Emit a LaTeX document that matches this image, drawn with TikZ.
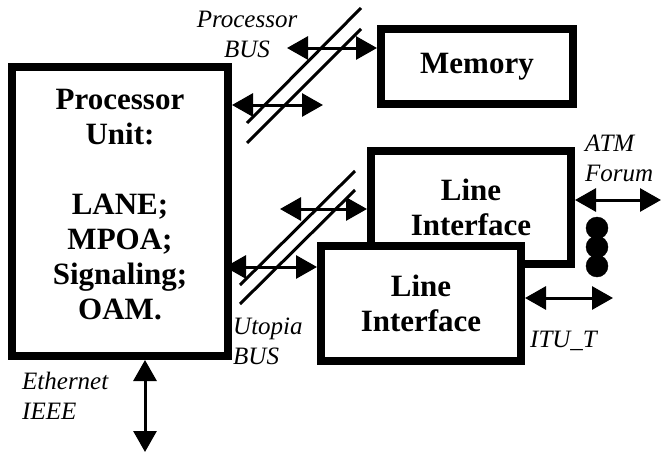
\documentclass[tikz,border=0pt]{standalone}
\usepackage{fontspec}
\setmainfont{Liberation Serif}
\usetikzlibrary{arrows.meta}

\tikzset{
  unitbox/.style={draw, line width=8pt, fill=white, inner sep=0pt, align=center,
    font=\fontsize{31}{35}\selectfont\bfseries},
  buslabel/.style={inner sep=0pt, font=\fontsize{25}{30}\selectfont\itshape},
  busline/.style={line width=3pt},
  link/.style={line width=3pt, {Triangle[length=21pt,width=23pt]}-{Triangle[length=21pt,width=23pt]}}
}

\begin{document}
\begin{tikzpicture}[x=1pt, y=-1pt]
  \useasboundingbox (0,0) rectangle (662,455);

  % draws the units
  \node[unitbox, minimum width=216pt, minimum height=289pt, text depth=15pt] (proc) at (120,211.5)
    {Processor\\Unit:\\[35pt]LANE;\\MPOA;\\Signaling;\\OAM.};
  \node[unitbox, minimum width=192pt, minimum height=75pt] (mem) at (477,66.5) {Memory};
  \node[unitbox, minimum width=200pt, minimum height=113pt] (lineB) at (471,207.5) {Line\\Interface};
  \node[unitbox, minimum width=200pt, minimum height=115pt] (lineF) at (421,303.5) {Line\\Interface};

  % draws the buses
  \draw[busline] (247,123) -- (361,8);
  \draw[busline] (247,143) -- (361,29);
  \draw[busline] (240,285) -- (355,171);
  \draw[busline] (240,304) -- (355,190);

  % draws the links
  \coordinate (pbusA) at (287,48);
  \coordinate (pbusB) at (323,105);
  \coordinate (ubusA) at (280,209);
  \coordinate (ubusB) at (225,267);
  \coordinate (atm) at (661,200);
  \coordinate (itu) at (613,298);
  \coordinate (eth) at (145,452);
  \draw[link] (pbusA) -- (pbusA -| mem.west);
  \draw[link] (proc.east |- pbusB) -- (pbusB);
  \draw[link] (ubusA) -- (ubusA -| lineB.west);
  \draw[link] (ubusB) -- (ubusB -| lineF.west);
  \draw[link] (lineB.east |- atm) -- (atm);
  \draw[link] (lineF.east |- itu) -- (itu);
  \draw[link] (proc.south -| eth) -- (eth);

  % draws the dots
  \foreach \y in {228,247,266}
    \draw[fill = black] (597,\y) circle (11pt);

  % draws the labels
  \node[buslabel, align=center, anchor=south] (pbusText) at (247,58) {Processor\\BUS};
  \node[buslabel, align=left, anchor=south west] (atmText) at (585,182) {ATM\\Forum};
  \node[buslabel, align=left, anchor=south west] (ubusText) at (233,365) {Utopia\\BUS};
  \node[buslabel, anchor=base west] (ituText) at (530,347) {ITU\_T};
  \node[buslabel, align=left, anchor=south west] (ethText) at (22,420) {Ethernet\\IEEE};
\end{tikzpicture}
\end{document}
